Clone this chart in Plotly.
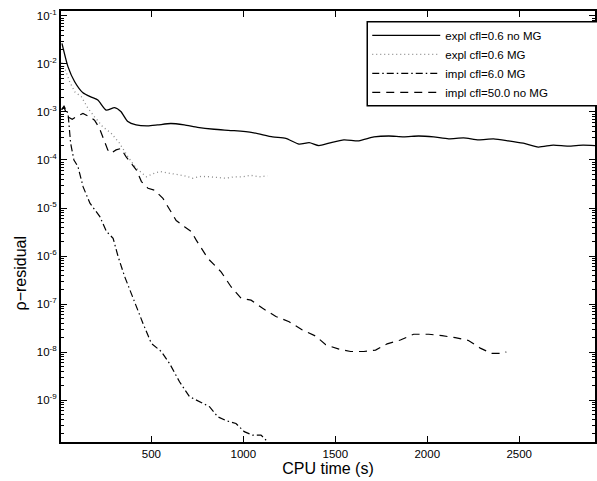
import plotly.graph_objects as go

# ---- data (CPU time in s, log10 of rho-residual) ----
expl_nomg_t = [14, 47, 83, 128, 173, 209, 254, 300, 334, 372, 417, 480, 534, 606, 679, 751, 841, 950,
               1050, 1159, 1231, 1303, 1358, 1411, 1466, 1547, 1628, 1710, 1791, 1872, 1953, 2035,
               2116, 2197, 2279, 2360, 2441, 2522, 2604, 2685, 2766, 2847, 2912]
expl_nomg_log = [-1.57, -2.06, -2.37, -2.60, -2.69, -2.75, -2.96, -2.91, -2.99, -3.20, -3.27, -3.29,
                 -3.27, -3.24, -3.27, -3.32, -3.36, -3.39, -3.43, -3.52, -3.55, -3.67, -3.64, -3.70,
                 -3.65, -3.58, -3.60, -3.52, -3.50, -3.52, -3.50, -3.52, -3.56, -3.54, -3.58, -3.56,
                 -3.60, -3.65, -3.73, -3.69, -3.71, -3.69, -3.70]

expl_mg_t = [12, 29, 56, 83, 119, 155, 191, 236, 281, 327, 372, 417, 473, 500, 545, 590, 635, 680,
             725, 770, 816, 860, 906, 950, 996, 1040, 1087, 1132]
expl_mg_log = [-1.97, -2.09, -2.37, -2.58, -2.68, -2.92, -3.10, -3.31, -3.44, -3.65, -3.93, -4.17,
               -4.35, -4.30, -4.24, -4.27, -4.29, -4.33, -4.38, -4.34, -4.35, -4.37, -4.38, -4.35,
               -4.35, -4.32, -4.35, -4.33]

impl6_t = [12, 25, 47, 61, 79, 101, 129, 166, 220, 256, 292, 319, 355, 410, 454, 500, 554, 599,
           653, 707, 771, 816, 861, 906, 960, 1005, 1050, 1096, 1132, 1150]
impl6_log = [-2.95, -2.88, -3.03, -3.65, -4.00, -4.14, -4.56, -4.90, -5.18, -5.49, -5.63, -6.01,
             -6.43, -6.99, -7.40, -7.82, -7.99, -8.24, -8.62, -8.93, -9.05, -9.14, -9.35, -9.43,
             -9.49, -9.66, -9.73, -9.73, -9.87, -10.0]

impl50_t = [12, 25, 45, 70, 101, 128, 164, 191, 218, 245, 263, 281, 308, 335, 362, 419, 446, 482,
            518, 563, 599, 635, 680, 717, 744, 771, 807, 879, 933, 988, 1042, 1105, 1177, 1249,
            1321, 1394, 1448, 1520, 1583, 1655, 1719, 1782, 1854, 1926, 2008, 2080, 2152, 2224,
            2288, 2350, 2396, 2430]
impl50_log = [-2.95, -2.90, -3.10, -3.15, -3.08, -3.03, -3.10, -3.17, -3.34, -3.62, -3.79, -3.86,
              -3.79, -3.76, -3.93, -4.21, -4.45, -4.59, -4.63, -4.80, -5.04, -5.26, -5.39, -5.49,
              -5.67, -5.84, -6.05, -6.33, -6.64, -6.88, -6.92, -7.09, -7.26, -7.37, -7.54, -7.67,
              -7.85, -7.94, -7.99, -7.99, -7.96, -7.83, -7.75, -7.63, -7.63, -7.66, -7.70, -7.76,
              -7.92, -8.03, -8.03, -8.00]

series_names = ["expl cfl=0.6 no MG", "expl cfl=0.6 MG", "impl cfl=6.0 MG", "impl cfl=50.0 no MG"]

x_tickvals = [500, 1000, 1500, 2000, 2500]
y_exponents = [-1, -2, -3, -4, -5, -6, -7, -8, -9]

FONT = "Liberation Sans, Arial, Helvetica, sans-serif"


def to_val(logs):
    return [10 ** v for v in logs]


fig = go.Figure()
fig.add_trace(go.Scatter(x=expl_nomg_t, y=to_val(expl_nomg_log), mode="lines", name=series_names[0],
                         line=dict(color="black", width=1.3, shape="spline", smoothing=0.6)))
fig.add_trace(go.Scatter(x=expl_mg_t, y=to_val(expl_mg_log), mode="lines", name=series_names[1],
                         line=dict(color="#8a8a8a", width=1.3, dash="1px,3px")))
fig.add_trace(go.Scatter(x=impl6_t, y=to_val(impl6_log), mode="lines", name=series_names[2],
                         line=dict(color="black", width=1.2, dash="7px,3px,1.5px,3px")))
fig.add_trace(go.Scatter(x=impl50_t, y=to_val(impl50_log), mode="lines", name=series_names[3],
                         line=dict(color="black", width=1.2, dash="8px,6px")))

minor_vals = [m * 10 ** e for e in range(-11, 0) for m in range(2, 10)]

fig.update_layout(
    width=597, height=481,
    margin=dict(l=61, r=0, t=11, b=39),
    paper_bgcolor="white", plot_bgcolor="white",
    font=dict(family=FONT, color="black", size=11),
    showlegend=True,
    legend=dict(x=0.5735, y=0.977, xanchor="left", yanchor="top",
                bgcolor="rgba(0,0,0,0)", borderwidth=0,
                font=dict(family=FONT, size=11.5, color="black"),
                itemwidth=68, tracegroupgap=0),
    shapes=[dict(type="rect", xref="paper", yref="paper", x0=0.5735, x1=1.03, y0=0.780, y1=0.975,
                 line=dict(color="black", width=1.5), fillcolor="white", layer="above")],
    xaxis=dict(range=[8.7, 2912], showgrid=False, zeroline=False,
               showline=True, linecolor="black", linewidth=2, mirror="ticks",
               ticks="inside", ticklen=6, tickwidth=1, tickcolor="black",
               tickmode="array", tickvals=x_tickvals, ticktext=[str(v) for v in x_tickvals],
               tickfont=dict(size=11.5),
               title=dict(text="CPU time (s)", font=dict(size=16), standoff=4)),
    yaxis=dict(type="log", range=[-9.875, -0.896], showgrid=False, zeroline=False,
               showline=True, linecolor="black", linewidth=2, mirror="ticks",
               ticks="inside", ticklen=6, tickwidth=1, tickcolor="black",
               tickmode="array", tickvals=[10 ** e for e in y_exponents],
               ticktext=["10<sup>%d</sup>" % e for e in y_exponents],
               tickfont=dict(size=11.5),
               minor=dict(ticks="inside", ticklen=3, tickwidth=1, tickcolor="black",
                          tickmode="array", tickvals=minor_vals, showgrid=False)),
    annotations=[dict(text="ρ−residual", xref="paper", yref="paper", x=-0.076, y=0.392,
                      xanchor="center", yanchor="middle", textangle=-90, showarrow=False,
                      font=dict(family=FONT, size=16, color="black"))],
)

fig.write_html("out.html")
